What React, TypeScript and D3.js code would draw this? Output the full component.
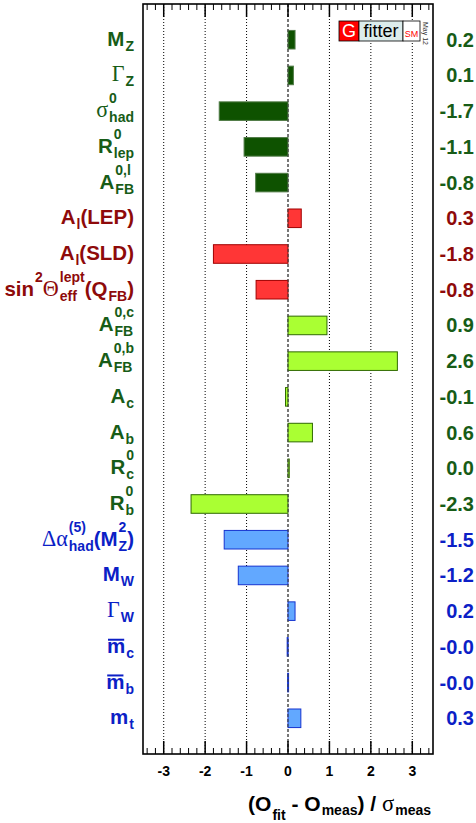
import * as d3 from "d3";
import { useEffect, useRef } from "react";

// label segments: t = bold sans text, g = greek (serif), sup/sub = stacked scripts
type Seg = { t?: string; g?: string; sup?: string; sub?: string; over?: boolean; drop?: number };

const observables: Seg[][] = [
  [{ t: "M" }, { sub: "Z" }],
  [{ g: "Γ" }, { sub: "Z" }],
  [{ g: "σ" }, { sup: "0", sub: "had" }],
  [{ t: "R" }, { sup: "0", sub: "lep" }],
  [{ t: "A" }, { sup: "0,l", sub: "FB" }],
  [{ t: "A" }, { sub: "l" }, { t: "(LEP)" }],
  [{ t: "A" }, { sub: "l" }, { t: "(SLD)" }],
  [{ t: "sin" }, { sup: "2" }, { g: "Θ" }, { sup: "lept", sub: "eff" }, { t: "(Q" }, { sub: "FB" }, { t: ")" }],
  [{ t: "A" }, { sup: "0,c", sub: "FB" }],
  [{ t: "A" }, { sup: "0,b", sub: "FB" }],
  [{ t: "A" }, { sub: "c" }],
  [{ t: "A" }, { sub: "b" }],
  [{ t: "R" }, { sup: "0", sub: "c" }],
  [{ t: "R" }, { sup: "0", sub: "b" }],
  [{ g: "Δα" }, { sup: "(5)", sub: "had" }, { t: "(M" }, { sup: "2", sub: "Z" }, { t: ")" }],
  [{ t: "M" }, { sub: "W" }],
  [{ g: "Γ" }, { sub: "W" }],
  [{ t: "m", over: true }, { sub: "c" }],
  [{ t: "m", over: true }, { sub: "b" }],
  [{ t: "m" }, { sub: "t" }],
];

const pulls = [0.17, 0.13, -1.66, -1.06, -0.78, 0.32, -1.8, -0.77, 0.94, 2.64, -0.06, 0.59, 0.03, -2.34, -1.54, -1.2, 0.17, -0.02, -0.01, 0.31];

const sectors = ["z", "z", "z", "z", "z", "lep", "lep", "lep", "hf", "hf", "hf", "hf", "hf", "hf", "ew", "ew", "ew", "ew", "ew", "ew"];

const majorTicks = [-3, -2, -1, 0, 1, 2, 3];

const axisTitle: Seg[] = [
  { t: "(O" },
  { sub: "fit", drop: 9 },
  { t: " - O" },
  { sub: "meas", drop: 4 },
  { t: ") / " },
  { g: "σ" },
  { sub: "meas", drop: 4 },
];

const width = 476;
const height = 823;
const frame = { left: 143, right: 433, top: 4, bottom: 754 };
const labelRight = 134;
const valueRight = 474;

const palette: Record<string, { fill: string; stroke: string; text: string }> = {
  z: { fill: "#0e5200", stroke: "#4f7a45", text: "#175c17" },
  lep: { fill: "#ff3636", stroke: "#a00000", text: "#8e0a0a" },
  hf: { fill: "#aaff33", stroke: "#2f6a00", text: "#175c17" },
  ew: { fill: "#62a8ff", stroke: "#1533d0", text: "#0c1fc6" },
};

const sans = "'Liberation Sans', Arial, Helvetica, sans-serif";
const serif = "'Liberation Serif', 'Times New Roman', serif";

function drawRich(
  g: d3.Selection<SVGGElement, unknown, null, undefined>,
  segs: Seg[],
  color: string,
  size: number,
  subSize: number,
  anchorRight: number,
  baseline: number,
) {
  let x = 0;
  const add = (txt: string, xx: number, dy: number, fs: number, family: string, weight: string) => {
    const el = g
      .append("text")
      .attr("x", xx)
      .attr("y", dy)
      .attr("font-size", fs)
      .attr("font-family", family)
      .attr("font-weight", weight)
      .attr("fill", color)
      .style("white-space", "pre")
      .text(txt);
    return (el.node() as SVGTextElement).getComputedTextLength();
  };
  segs.forEach((s) => {
    if (s.t) {
      const w = add(s.t, x, 0, size, sans, "bold");
      if (s.over) {
        g.append("line")
          .attr("x1", x + 1)
          .attr("x2", x + w - 1)
          .attr("y1", -size * 0.64)
          .attr("y2", -size * 0.64)
          .attr("stroke", color)
          .attr("stroke-width", 2);
      }
      x += w;
    } else if (s.g) {
      x += add(s.g, x, 0, size * 1.08, serif, "normal");
    } else {
      let w = 0;
      if (s.sup) w = Math.max(w, add(s.sup, x + 1, -size * 0.68, subSize, sans, "bold"));
      if (s.sub) w = Math.max(w, add(s.sub, x + 1, s.drop ?? 5, subSize, sans, "bold"));
      x += w + 1;
    }
  });
  g.attr("transform", `translate(${anchorRight - x}, ${baseline})`);
}

export default function App() {
  const labelsRef = useRef<SVGGElement>(null);

  const xScale = d3.scaleLinear().domain([-3.5, 3.5]).range([frame.left, frame.right]);
  const yScale = d3.scaleLinear().domain([-1, pulls.length]).range([frame.top, frame.bottom]);
  const step = yScale(1) - yScale(0);
  const barHeight = step * 0.52;
  const minorTicks = d3.range(-34, 35, 2).map((v) => v / 10).filter((v) => !majorTicks.includes(Math.round(v * 10) / 10));

  useEffect(() => {
    document.body.style.margin = "0";
    if (!labelsRef.current) return;
    const root = d3.select(labelsRef.current);
    root.selectAll("*").remove();
    observables.forEach((segs, i) => {
      const g = root.append("g");
      drawRich(g, segs, palette[sectors[i]].text, 20.5, 14, labelRight, yScale(i) + 6);
    });
    drawRich(root.append("g"), axisTitle, "#000", 21, 14, frame.right - 2, 811);
  }, []);

  return (
    <svg width={width} height={height} style={{ position: "absolute", left: 0, top: 0, background: "#fff" }}>
      {majorTicks.map((tick) => (
        <line
          key={`grid-${tick}`}
          x1={xScale(tick)}
          x2={xScale(tick)}
          y1={frame.top}
          y2={frame.bottom}
          stroke={tick === 0 ? "#555" : "#000"}
          strokeWidth={1}
          strokeDasharray={tick === 0 ? "3 2" : "1 2"}
        />
      ))}

      {pulls.map((v, i) => {
        const c = palette[sectors[i]];
        const x0 = xScale(Math.min(0, v));
        const x1 = xScale(Math.max(0, v));
        return (
          <rect
            key={`bar-${i}`}
            x={x0}
            y={yScale(i) - barHeight / 2}
            width={Math.max(x1 - x0, 1)}
            height={barHeight}
            fill={c.fill}
            stroke={c.stroke}
            strokeWidth={1}
          />
        );
      })}

      <line x1={xScale(0)} x2={xScale(0)} y1={frame.top} y2={frame.bottom} stroke="#444" strokeWidth={1} strokeDasharray="3 2" />

      {pulls.map((v, i) => (
        <text
          key={`val-${i}`}
          x={valueRight}
          y={yScale(i) + 7}
          textAnchor="end"
          fontFamily={sans}
          fontWeight="bold"
          fontSize={20}
          fill={palette[sectors[i]].text}
        >
          {v.toFixed(1)}
        </text>
      ))}

      {/* ticks, top and bottom */}
      {majorTicks.map((tick) => (
        <g key={`tick-${tick}`}>
          <line x1={xScale(tick)} x2={xScale(tick)} y1={frame.top} y2={frame.top + 13} stroke="#000" strokeWidth={1.5} />
          <line x1={xScale(tick)} x2={xScale(tick)} y1={frame.bottom} y2={frame.bottom - 13} stroke="#000" strokeWidth={1.5} />
          <text x={xScale(tick)} y={frame.bottom + 22} textAnchor="middle" fontFamily={sans} fontWeight="bold" fontSize={14} fill="#000">
            {tick}
          </text>
        </g>
      ))}
      {minorTicks.map((tick) => (
        <g key={`minor-${tick}`}>
          <line x1={xScale(tick)} x2={xScale(tick)} y1={frame.top} y2={frame.top + 6} stroke="#000" strokeWidth={1} />
          <line x1={xScale(tick)} x2={xScale(tick)} y1={frame.bottom} y2={frame.bottom - 6} stroke="#000" strokeWidth={1} />
        </g>
      ))}

      <rect x={frame.left} y={frame.top} width={frame.right - frame.left} height={frame.bottom - frame.top} fill="none" stroke="#000" strokeWidth={1.6} />

      {/* Gfitter logo */}
      <g transform={`translate(${frame.right - 94}, ${frame.top + 17})`} fontFamily={sans}>
        <rect x={0} y={0} width={20} height={20} fill="#ff0000" stroke="#000" strokeWidth={0.8} />
        <text x={10} y={16} textAnchor="middle" fontSize={18} fill="#fff">G</text>
        <rect x={20} y={0} width={44} height={20} fill="#dcecec" stroke="#000" strokeWidth={0.8} />
        <text x={42} y={16} textAnchor="middle" fontSize={18} fill="#000">fitter</text>
        <rect x={64} y={0} width={17} height={20} fill="#fff" stroke="#000" strokeWidth={0.8} />
        <text x={72.5} y={16} textAnchor="middle" fontSize={9} fill="#ff0000">SM</text>
        <text transform="translate(84, 1) rotate(90)" fontSize={7} fill="#333">May 12</text>
      </g>

      <g ref={labelsRef} />
    </svg>
  );
}
